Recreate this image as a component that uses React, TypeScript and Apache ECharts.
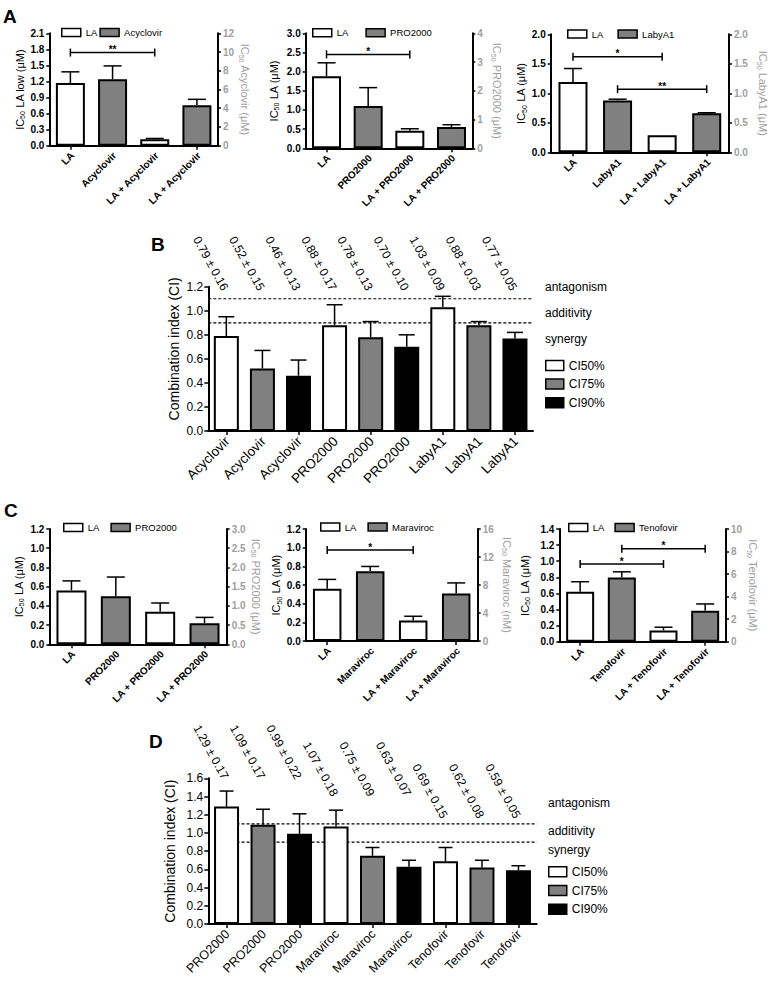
import React, { useEffect, useRef } from "react";
import * as echarts from "echarts";

const FONT = "'Liberation Sans', Arial, Helvetica, sans-serif";
const GRAY = "#808080";
const AXIS_GRAY = "#9e9e9e";

// ---------------- Panel A data ----------------
const a1Categories = ["LA", "Acyclovir", "LA + Acyclovir", "LA + Acyclovir"];
const a1LA = [1.17, 0.12];
const a1LASD = [0.21, 0.015];
const a1Drug = [7.1, 4.32];
const a1DrugSD = [1.42, 0.63];
const a1LeftTicks = [0, 0.3, 0.6, 0.9, 1.2, 1.5, 1.8, 2.1];
const a1RightTicks = [0, 2, 4, 6, 8, 10, 12];
const a1Brackets = [{ from: 0, to: 2, level: 1.74, mark: "**" }];

const a2Categories = ["LA", "PRO2000", "LA + PRO2000", "LA + PRO2000"];
const a2LA = [1.88, 0.46];
const a2LASD = [0.35, 0.05];
const a2Drug = [1.47, 0.74];
const a2DrugSD = [0.64, 0.08];
const a2LeftTicks = [0, 0.5, 1.0, 1.5, 2.0, 2.5, 3.0];
const a2RightTicks = [0, 1, 2, 3, 4];
const a2Brackets = [{ from: 0, to: 2, level: 2.45, mark: "*" }];

const a3Categories = ["LA", "LabyA1", "LA + LabyA1", "LA + LabyA1"];
const a3LA = [1.19, 0.29];
const a3LASD = [0.23, 0];
const a3Drug = [0.88, 0.66];
const a3DrugSD = [0.02, 0.01];
const a3LeftTicks = [0, 0.5, 1.0, 1.5, 2.0];
const a3RightTicks = [0, 0.5, 1.0, 1.5, 2.0];
const a3Brackets = [
  { from: 0, to: 2, level: 1.62, mark: "*" },
  { from: 1, to: 3, level: 1.07, mark: "**" },
];

// ---------------- Panel C data ----------------
const c1Categories = ["LA", "PRO2000", "LA + PRO2000", "LA + PRO2000"];
const c1LA = [0.56, 0.34];
const c1LASD = [0.1, 0.09];
const c1Drug = [1.25, 0.55];
const c1DrugSD = [0.5, 0.15];
const c1LeftTicks = [0, 0.2, 0.4, 0.6, 0.8, 1.0, 1.2];
const c1RightTicks = [0, 0.5, 1.0, 1.5, 2.0, 2.5, 3.0];
const c1Brackets: { from: number; to: number; level: number; mark: string }[] = [];

const c2Categories = ["LA", "Maraviroc", "LA + Maraviroc", "LA + Maraviroc"];
const c2LA = [0.56, 0.22];
const c2LASD = [0.1, 0.045];
const c2Drug = [9.95, 6.8];
const c2DrugSD = [0.7, 1.5];
const c2LeftTicks = [0, 0.2, 0.4, 0.6, 0.8, 1.0, 1.2];
const c2RightTicks = [0, 4, 8, 12, 16];
const c2Brackets = [{ from: 0, to: 2, level: 0.975, mark: "*" }];

const c3Categories = ["LA", "Tenofovir", "LA + Tenofovir", "LA + Tenofovir"];
const c3LA = [0.62, 0.14];
const c3LASD = [0.125, 0.04];
const c3Drug = [5.7, 2.75];
const c3DrugSD = [0.5, 0.6];
const c3LeftTicks = [0, 0.2, 0.4, 0.6, 0.8, 1.0, 1.2, 1.4];
const c3RightTicks = [0, 2, 4, 6, 8, 10];
const c3Brackets = [
  { from: 1, to: 3, level: 1.155, mark: "*" },
  { from: 0, to: 2, level: 0.965, mark: "*" },
];

// ---------------- Panels B & D data ----------------
const ciLevels = ["CI50%", "CI75%", "CI90%"];
const zoneLabels = ["antagonism", "additivity", "synergy"];
const refLevels = [1.1, 0.9];

const bCategories = ["Acyclovir", "Acyclovir", "Acyclovir", "PRO2000", "PRO2000", "PRO2000", "LabyA1", "LabyA1", "LabyA1"];
const bCI = [0.79, 0.52, 0.46, 0.88, 0.78, 0.7, 1.03, 0.88, 0.77];
const bSD = [0.16, 0.15, 0.13, 0.17, 0.13, 0.1, 0.09, 0.03, 0.05];
const bTicks = [0, 0.2, 0.4, 0.6, 0.8, 1.0, 1.2];

const dCategories = ["PRO2000", "PRO2000", "PRO2000", "Maraviroc", "Maraviroc", "Maraviroc", "Tenofovir", "Tenofovir", "Tenofovir"];
const dCI = [1.29, 1.09, 0.99, 1.07, 0.75, 0.63, 0.69, 0.62, 0.59];
const dSD = [0.17, 0.17, 0.22, 0.18, 0.09, 0.07, 0.15, 0.08, 0.05];
const dTicks = [0, 0.2, 0.4, 0.6, 0.8, 1.0, 1.2, 1.4, 1.6];

// ---------------- styling / layout ----------------
const ciColors = ["#ffffff", GRAY, "#000000"];

type Bracket = { from: number; to: number; level: number; mark: string };
type Dual = {
  cats: string[]; drug: string; la: number[]; laSD: number[]; drugV: number[]; drugSD: number[];
  leftTicks: number[]; rightTicks: number[]; leftName: string; rightName: string; brackets: Bracket[];
  leftDec: number; rightDec: number;
};

const dualPanels: Dual[] = [
  { cats: a1Categories, drug: "Acyclovir", la: a1LA, laSD: a1LASD, drugV: a1Drug, drugSD: a1DrugSD, leftTicks: a1LeftTicks, rightTicks: a1RightTicks, leftName: "IC{s|50} LA low (μM)", rightName: "IC{g|50} Acyclovir (μM)", brackets: a1Brackets, leftDec: 1, rightDec: 0 },
  { cats: a2Categories, drug: "PRO2000", la: a2LA, laSD: a2LASD, drugV: a2Drug, drugSD: a2DrugSD, leftTicks: a2LeftTicks, rightTicks: a2RightTicks, leftName: "IC{s|50} LA (μM)", rightName: "IC{g|50} PRO2000 (μM)", brackets: a2Brackets, leftDec: 1, rightDec: 0 },
  { cats: a3Categories, drug: "LabyA1", la: a3LA, laSD: a3LASD, drugV: a3Drug, drugSD: a3DrugSD, leftTicks: a3LeftTicks, rightTicks: a3RightTicks, leftName: "IC{s|50} LA (μM)", rightName: "IC{g|50} LabyA1 (μM)", brackets: a3Brackets, leftDec: 1, rightDec: 1 },
  { cats: c1Categories, drug: "PRO2000", la: c1LA, laSD: c1LASD, drugV: c1Drug, drugSD: c1DrugSD, leftTicks: c1LeftTicks, rightTicks: c1RightTicks, leftName: "IC{s|50} LA (μM)", rightName: "IC{g|50} PRO2000 (μM)", brackets: c1Brackets, leftDec: 1, rightDec: 1 },
  { cats: c2Categories, drug: "Maraviroc", la: c2LA, laSD: c2LASD, drugV: c2Drug, drugSD: c2DrugSD, leftTicks: c2LeftTicks, rightTicks: c2RightTicks, leftName: "IC{s|50} LA (μM)", rightName: "IC{g|50} Maraviroc (nM)", brackets: c2Brackets, leftDec: 1, rightDec: 0 },
  { cats: c3Categories, drug: "Tenofovir", la: c3LA, laSD: c3LASD, drugV: c3Drug, drugSD: c3DrugSD, leftTicks: c3LeftTicks, rightTicks: c3RightTicks, leftName: "IC{s|50} LA (μM)", rightName: "IC{g|50} Tenofovir (μM)", brackets: c3Brackets, leftDec: 1, rightDec: 0 },
];

const dualLayouts = [
  { grid: [49.3, 33.3, 168.7, 112.4], legend: [61, 27.5, 2], gaps: [23, 17.5], barWidth: 29, cap: 9 },
  { grid: [305.7, 33.3, 166.6, 115], legend: [312, 27.8, 17], gaps: [25.5, 18], barWidth: 29, cap: 9 },
  { grid: [550.7, 34.3, 178.3, 118], legend: [567, 29, 14], gaps: [19, 27], barWidth: 29, cap: 9 },
  { grid: [49.3, 529, 177.4, 115.3], legend: [63, 522.5, 11], gaps: [24, 20], barWidth: 30, cap: 9 },
  { grid: [305.7, 529, 172, 112], legend: [320, 522, 11], gaps: [18, 23], barWidth: 28.5, cap: 9 },
  { grid: [559.3, 529, 166.7, 112.7], legend: [568, 522.5, 10], gaps: [28, 17.5], barWidth: 28, cap: 9 },
];

type CI = { cats: string[]; values: number[]; sd: number[]; ticks: number[] };
const ciPanels: CI[] = [
  { cats: bCategories, values: bCI, sd: bSD, ticks: bTicks },
  { cats: dCategories, values: dCI, sd: dSD, ticks: dTicks },
];
const ciLayouts = [
  { grid: [208.3, 286.7, 324.7, 144.3], nameGap: 27, namePad: [0, 0, 0, 20], labelDrop: [3, 3, 3, 3, 3, 3, 3, 3, 3], refFromFirst: false, legend: [545, 359.5, 6.6], zoneX: 545, zoneY: [286.7, 312.7, 339], cap: 8, catFont: 13.5 },
  { grid: [208.3, 778.3, 328.4, 145.7], nameGap: 31, namePad: [0, 0, 0, 0], labelDrop: [0, 0, 0, 17, 17, 17, 39, 39, 39], refFromFirst: true, legend: [548, 865.7, 6.8], zoneX: 548, zoneY: [803.3, 831, 850], cap: 7, catFont: 12.5 },
];

const panelLetters = [
  { t: "A", x: 3, y: 16 },
  { t: "B", x: 151, y: 244 },
  { t: "C", x: 4, y: 510 },
  { t: "D", x: 149, y: 741 },
];

function buildOption() {
  const grid: any[] = [];
  const xAxis: any[] = [];
  const yAxis: any[] = [];
  const series: any[] = [];
  const legend: any[] = [];
  const graphic: any[] = [];

  const axisLine = { show: true, onZero: false, lineStyle: { color: "#000", width: 2 } };
  const tick = (len: number) => ({ show: true, length: len, lineStyle: { color: "#000", width: 1.5 } });
  const range = (t: number[]) => ({ min: t[0], max: t[t.length - 1], interval: +(t[1] - t[0]).toFixed(6) });

  const errRender = (half: number) => (params: any, api: any) => {
    const x = api.value(0);
    const v = api.value(1);
    const t = api.value(2);
    if (!(t > v)) return null;
    const a = api.coord([x, v]);
    const b = api.coord([x, t]);
    const st = { stroke: "#000", lineWidth: 1.5 };
    return {
      type: "group",
      children: [
        { type: "line", shape: { x1: a[0], y1: a[1], x2: b[0], y2: b[1] }, style: st },
        { type: "line", shape: { x1: b[0] - half, y1: b[1], x2: b[0] + half, y2: b[1] }, style: st },
      ],
    };
  };

  // rotated (45°) category labels drawn at each category tick
  const catLabels = (gi: number, yi: number, cats: string[], font: any, dx: number, dy: number) => ({
    type: "custom",
    xAxisIndex: gi,
    yAxisIndex: yi,
    silent: true,
    z: 4,
    renderItem: (params: any, api: any) => {
      const i = params.dataIndex;
      const cs = params.coordSys;
      const x = api.coord([i, 0])[0];
      return {
        type: "text",
        x: x + dx,
        y: cs.y + cs.height + dy,
        rotation: Math.PI / 4,
        style: { text: cats[i], align: "right", verticalAlign: "middle", fill: "#000", fontFamily: FONT, ...font },
      };
    },
    data: cats.map((_, i) => [i, 0]),
  });

  // ---- dual-axis panels (A and C) ----
  dualPanels.forEach((p, idx) => {
    const L = dualLayouts[idx];
    const gi = grid.length;
    grid.push({ left: L.grid[0], top: L.grid[1], width: L.grid[2], height: L.grid[3], outerBoundsMode: "none" });
    xAxis.push({
      type: "category",
      gridIndex: gi,
      data: p.cats,
      axisLine,
      axisTick: { ...tick(4), alignWithLabel: true },
      axisLabel: { show: false },
      splitLine: { show: false },
    });
    const yl = yAxis.length;
    yAxis.push({
      type: "value",
      gridIndex: gi,
      position: "left",
      ...range(p.leftTicks),
      axisLine,
      axisTick: tick(3),
      axisLabel: { margin: 5, fontSize: 10, fontWeight: "bold", color: "#000", fontFamily: FONT, formatter: (v: number) => v.toFixed(p.leftDec) },
      splitLine: { show: false },
      name: p.leftName,
      nameLocation: "middle",
      nameGap: L.gaps[0],
      nameTextStyle: { fontSize: 11, color: "#000", fontFamily: FONT, rich: { s: { fontSize: 7, color: "#000", fontFamily: FONT, padding: [6, 0, 0, 0] } } },
    });
    yAxis.push({
      type: "value",
      gridIndex: gi,
      position: "right",
      ...range(p.rightTicks),
      axisLine,
      axisTick: tick(3),
      axisLabel: { margin: 5, fontSize: 10, fontWeight: "bold", color: AXIS_GRAY, fontFamily: FONT, formatter: (v: number) => v.toFixed(p.rightDec) },
      splitLine: { show: false },
      name: p.rightName,
      nameLocation: "middle",
      nameRotate: -90,
      nameGap: L.gaps[1],
      nameTextStyle: { fontSize: 11, color: AXIS_GRAY, fontFamily: FONT, rich: { g: { fontSize: 7, color: AXIS_GRAY, fontFamily: FONT, padding: [6, 0, 0, 0] } } },
    });
    const yr = yl + 1;
    series.push({
      type: "bar",
      name: "LA",
      xAxisIndex: gi,
      yAxisIndex: yl,
      data: [p.la[0], "-", p.la[1], "-"],
      barWidth: L.barWidth,
      barGap: "-100%",
      itemStyle: { color: "#fff", borderColor: "#000", borderWidth: 2 },
      z: 2,
    });
    series.push({
      type: "bar",
      name: p.drug,
      xAxisIndex: gi,
      yAxisIndex: yr,
      data: ["-", p.drugV[0], "-", p.drugV[1]],
      barWidth: L.barWidth,
      barGap: "-100%",
      itemStyle: { color: GRAY, borderColor: "#000", borderWidth: 2 },
      z: 2,
    });
    series.push({
      type: "custom",
      xAxisIndex: gi,
      yAxisIndex: yl,
      silent: true,
      z: 3,
      renderItem: errRender(L.cap),
      data: [
        [0, p.la[0], p.la[0] + p.laSD[0]],
        [2, p.la[1], p.la[1] + p.laSD[1]],
      ],
    });
    series.push({
      type: "custom",
      xAxisIndex: gi,
      yAxisIndex: yr,
      silent: true,
      z: 3,
      renderItem: errRender(L.cap),
      data: [
        [1, p.drugV[0], p.drugV[0] + p.drugSD[0]],
        [3, p.drugV[1], p.drugV[1] + p.drugSD[1]],
      ],
    });
    if (p.brackets.length) {
      series.push({
        type: "custom",
        xAxisIndex: gi,
        yAxisIndex: yl,
        silent: true,
        z: 3,
        encode: { x: [0, 1], y: 2 },
        renderItem: (params: any, api: any) => {
          const b = p.brackets[params.dataIndex];
          const p1 = api.coord([b.from, b.level]);
          const p2 = api.coord([b.to, b.level]);
          const st = { stroke: "#000", lineWidth: 1.5 };
          return {
            type: "group",
            children: [
              { type: "line", shape: { x1: p1[0], y1: p1[1], x2: p2[0], y2: p2[1] }, style: st },
              { type: "line", shape: { x1: p1[0], y1: p1[1] - 4, x2: p1[0], y2: p1[1] + 4 }, style: st },
              { type: "line", shape: { x1: p2[0], y1: p2[1] - 4, x2: p2[0], y2: p2[1] + 4 }, style: st },
              {
                type: "text",
                x: (p1[0] + p2[0]) / 2,
                y: p1[1] + 2,
                style: { text: b.mark, fontSize: 10, fontWeight: "bold", fontFamily: FONT, fill: "#000", align: "center", verticalAlign: "bottom" },
              },
            ],
          };
        },
        data: p.brackets.map((b) => [b.from, b.to, b.level]),
      });
    }
    series.push(catLabels(gi, yl, p.cats, { fontSize: 10, fontWeight: "bold" }, 2, 8));
    legend.push({
      left: L.legend[0],
      top: L.legend[1],
      orient: "horizontal",
      padding: 0,
      itemWidth: 19,
      itemHeight: 8,
      itemGap: L.legend[2],
      icon: "rect",
      selectedMode: false,
      data: ["LA", p.drug],
      itemStyle: { borderColor: "#000", borderWidth: 1.5 },
      textStyle: { fontSize: 9.5, color: "#000", fontFamily: FONT, padding: [0, 0, 0, 0] },
    });
  });

  // ---- combination-index panels (B and D) ----
  ciPanels.forEach((p, idx) => {
    const L = ciLayouts[idx];
    const gi = grid.length;
    grid.push({ left: L.grid[0], top: L.grid[1], width: L.grid[2], height: L.grid[3], outerBoundsMode: "none" });
    xAxis.push({
      type: "category",
      gridIndex: gi,
      data: p.cats,
      axisLine,
      axisTick: { ...tick(4), alignWithLabel: true },
      axisLabel: { show: false },
      splitLine: { show: false },
    });
    const yi = yAxis.length;
    yAxis.push({
      type: "value",
      gridIndex: gi,
      ...range(p.ticks),
      axisLine,
      axisTick: tick(4),
      axisLabel: { margin: 5, fontSize: 12, color: "#000", fontFamily: FONT, formatter: (v: number) => v.toFixed(1) },
      splitLine: { show: false },
      name: "Combination index (CI)",
      nameLocation: "middle",
      nameGap: L.nameGap,
      nameTextStyle: { fontSize: 14, color: "#000", fontFamily: FONT, padding: L.namePad },
    });
    // reference lines (behind bars)
    series.push({
      type: "custom",
      xAxisIndex: gi,
      yAxisIndex: yi,
      silent: true,
      z: 1,
      renderItem: (params: any, api: any) => {
        const cs = params.coordSys;
        const pt = api.coord([0, api.value(1)]);
        const x1 = L.refFromFirst ? pt[0] : cs.x;
        return {
          type: "line",
          shape: { x1, y1: pt[1], x2: cs.x + cs.width, y2: pt[1] },
          style: { stroke: "#000", lineWidth: 1.2, lineDash: [3, 2] },
        };
      },
      data: refLevels.map((v) => [0, v]),
    });
    ciLevels.forEach((name, k) => {
      series.push({
        type: "bar",
        name,
        xAxisIndex: gi,
        yAxisIndex: yi,
        data: p.values.map((v, i) => (i % 3 === k ? v : "-")),
        barWidth: 25,
        barGap: "-100%",
        itemStyle: { color: ciColors[k], borderColor: "#000", borderWidth: 2 },
        z: 2,
      });
    });
    series.push({
      type: "custom",
      xAxisIndex: gi,
      yAxisIndex: yi,
      silent: true,
      z: 3,
      renderItem: errRender(L.cap),
      data: p.values.map((v, i) => [i, v, v + p.sd[i]]),
    });
    series.push({
      type: "custom",
      xAxisIndex: gi,
      yAxisIndex: yi,
      silent: true,
      z: 3,
      renderItem: (params: any, api: any) => {
        const i = params.dataIndex;
        const v = p.values[i];
        const s = p.sd[i];
        const x = api.coord([i, 0])[0];
        const y = params.coordSys.y + L.labelDrop[i];
        return {
          type: "text",
          x: x - 1,
          y,
          rotation: (-61 * Math.PI) / 180,
          style: {
            text: `${v.toFixed(2)} ± ${s.toFixed(2)}`,
            align: "right",
            verticalAlign: "middle",
            fontSize: 12,
            fontFamily: FONT,
            fill: "#000",
          },
        };
      },
      data: p.values.map((v, i) => [i, v]),
    });
    series.push(catLabels(gi, yi, p.cats, { fontSize: L.catFont }, 1, 8));
    legend.push({
      left: L.legend[0],
      top: L.legend[1],
      orient: "vertical",
      padding: 0,
      itemWidth: 18,
      itemHeight: 10,
      itemGap: L.legend[2],
      icon: "rect",
      selectedMode: false,
      data: ciLevels,
      itemStyle: { borderColor: "#000", borderWidth: 1.5 },
      textStyle: { fontSize: 12, color: "#000", fontFamily: FONT },
    });
    zoneLabels.forEach((t, k) => {
      graphic.push({
        type: "text",
        x: L.zoneX,
        y: L.zoneY[k],
        silent: true,
        style: { text: t, fontSize: 12, fontFamily: FONT, fill: "#000", verticalAlign: "middle", align: "left" },
      });
    });
  });

  panelLetters.forEach((l) => {
    graphic.push({
      type: "text",
      x: l.x,
      y: l.y,
      silent: true,
      style: { text: l.t, fontSize: 19, fontWeight: "bold", fontFamily: FONT, fill: "#000", verticalAlign: "middle", align: "left" },
    });
  });

  return {
    animation: false,
    backgroundColor: "#fff",
    textStyle: { fontFamily: FONT },
    grid,
    xAxis,
    yAxis,
    legend,
    series,
    graphic: { elements: graphic },
  };
}

export default function App() {
  const ref = useRef<HTMLDivElement>(null);
  useEffect(() => {
    if (!ref.current) return;
    const chart = echarts.init(ref.current, null, { renderer: "svg" });
    chart.setOption(buildOption() as any);
    return () => chart.dispose();
  }, []);
  return (
    <div
      ref={ref}
      style={{ position: "absolute", left: 0, top: 0, width: 770, height: 981, background: "#fff" }}
    />
  );
}
